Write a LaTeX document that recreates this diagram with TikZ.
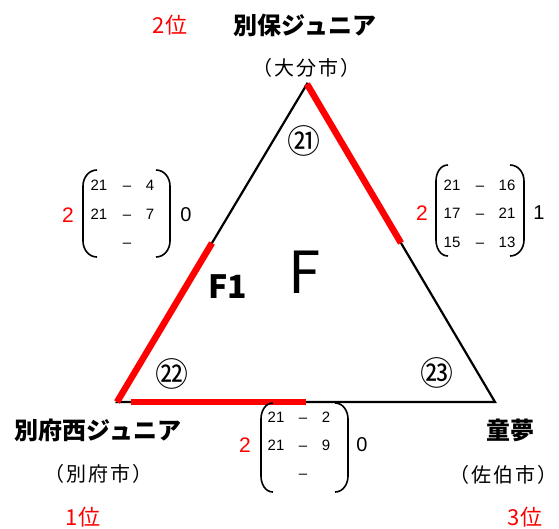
\documentclass[tikz,border=0pt]{standalone}
\usepackage{fontspec}
\setmainfont{Noto Sans CJK JP}
\newfontfamily\jpsp[LetterSpace=10]{Noto Sans CJK JP}
\newfontfamily\lat{Liberation Sans}
\usetikzlibrary{calc}
\definecolor{winred}{RGB}{255,0,0}
\begin{document}
\begin{tikzpicture}[x=1pt,y=-1pt,
  every node/.style={inner sep=0pt},
  tri/.style={line width=2.2pt,line join=miter},
  win/.style={line width=6.5pt,winred},
  parenline/.style={line width=1.6pt},
  team/.style={font=\fontsize{24}{24}\selectfont\bfseries},
  city/.style={font=\fontsize{20}{20}\jpsp},
  rank/.style={font=\fontsize{22}{22}\selectfont,text=winred},
  num/.style={font=\fontsize{15}{15}\lat,text height=10.8pt,text depth=0pt},
  setw/.style={font=\fontsize{21}{21}\lat,text=winred},
  setl/.style={font=\fontsize{20}{20}\lat},
  circ/.style={font=\fontsize{33}{33}\selectfont}]
\useasboundingbox (0,0) rectangle (559,528);
% triangle
\coordinate (A) at (307,84);
\coordinate (B) at (117,402);
\coordinate (C) at (495,402);
\draw[tri] (A) -- (B) -- (C) -- cycle;
\draw[win] ($(A)!0.5!(B)$) -- (B);
\draw[win] ($(B)!0.037!(C)$) -- ($(B)!0.5!(C)$);
\draw[win] (A) -- ($(A)!0.5!(C)$);
% labels inside
\node[circ] (m21) at (304,141) {㉑};
\node[circ] (m22) at (172,374) {㉒};
\node[circ] (m23) at (437,373) {㉓};
\node[font=\fontsize{58}{58}\selectfont] (F) at (305,272) {F};
\node[font=\fontsize{32}{32}\selectfont\bfseries] (F1) at (228,287) {F1};
% teams
\node[rank] (r2) at (170,25) {2位};
\node[team] (t1) at (305,25) {別保ジュニア};
\node[city] (c1) at (306,68) {（大分市）};
\node[team] (t2) at (98,430) {別府西ジュニア};
\node[city] (c2) at (98,474) {（別府市）};
\node[rank] (r1) at (83,517) {1位};
\node[team] (t3) at (510,430) {童夢};
\node[city] (c3) at (503,475) {（佐伯市）};
\node[rank] (r3) at (525,517) {3位};
% left match: 21 vs 22
\draw[parenline] (97,170) to[out=180,in=90] (83,186) -- (83,241) to[out=-90,in=180] (97,257);
\draw[parenline] (156,170) to[out=0,in=90] (170,186) -- (170,241) to[out=-90,in=0] (156,257);
\node[setw] (lw) at (68,215) {2};
\node[setl] (ll) at (186,215) {0};
\node[num] (la1) at (99,185) {21};
\node[num] (lb1) at (127,185) {–};
\node[num] (lc1) at (150,185) {4};
\node[num] (la2) at (99,214) {21};
\node[num] (lb2) at (127,214) {–};
\node[num] (lc2) at (150,214) {7};
\node[num] (lb3) at (127,242) {–};
% right match: 21 vs 23
\draw[parenline] (448,165) to[out=180,in=90] (436,181) -- (436,240) to[out=-90,in=180] (448,256);
\draw[parenline] (510,165) to[out=0,in=90] (524,181) -- (524,240) to[out=-90,in=0] (510,256);
\node[setw] (rw) at (422,213) {2};
\node[setl] (rl) at (539,213) {1};
\node[num] (ra1) at (452,185) {21};
\node[num] (rb1) at (480,185) {–};
\node[num] (rc1) at (507,185) {16};
\node[num] (ra2) at (452,213) {17};
\node[num] (rb2) at (480,213) {–};
\node[num] (rc2) at (507,213) {21};
\node[num] (ra3) at (452,242) {15};
\node[num] (rb3) at (480,242) {–};
\node[num] (rc3) at (507,242) {13};
% bottom match: 22 vs 23
\draw[parenline] (273,403) to[out=180,in=90] (261,419) -- (261,476) to[out=-90,in=180] (273,492);
\draw[parenline] (335,403) to[out=0,in=90] (348,419) -- (348,476) to[out=-90,in=0] (335,492);
\node[setw] (bw) at (245,445) {2};
\node[setl] (bl) at (362,445) {0};
\node[num] (ba1) at (276,417) {21};
\node[num] (bb1) at (303,417) {–};
\node[num] (bc1) at (326,417) {2};
\node[num] (ba2) at (276,445) {21};
\node[num] (bb2) at (303,445) {–};
\node[num] (bc2) at (326,445) {9};
\node[num] (bb3) at (303,473) {–};
\end{tikzpicture}
\end{document}
